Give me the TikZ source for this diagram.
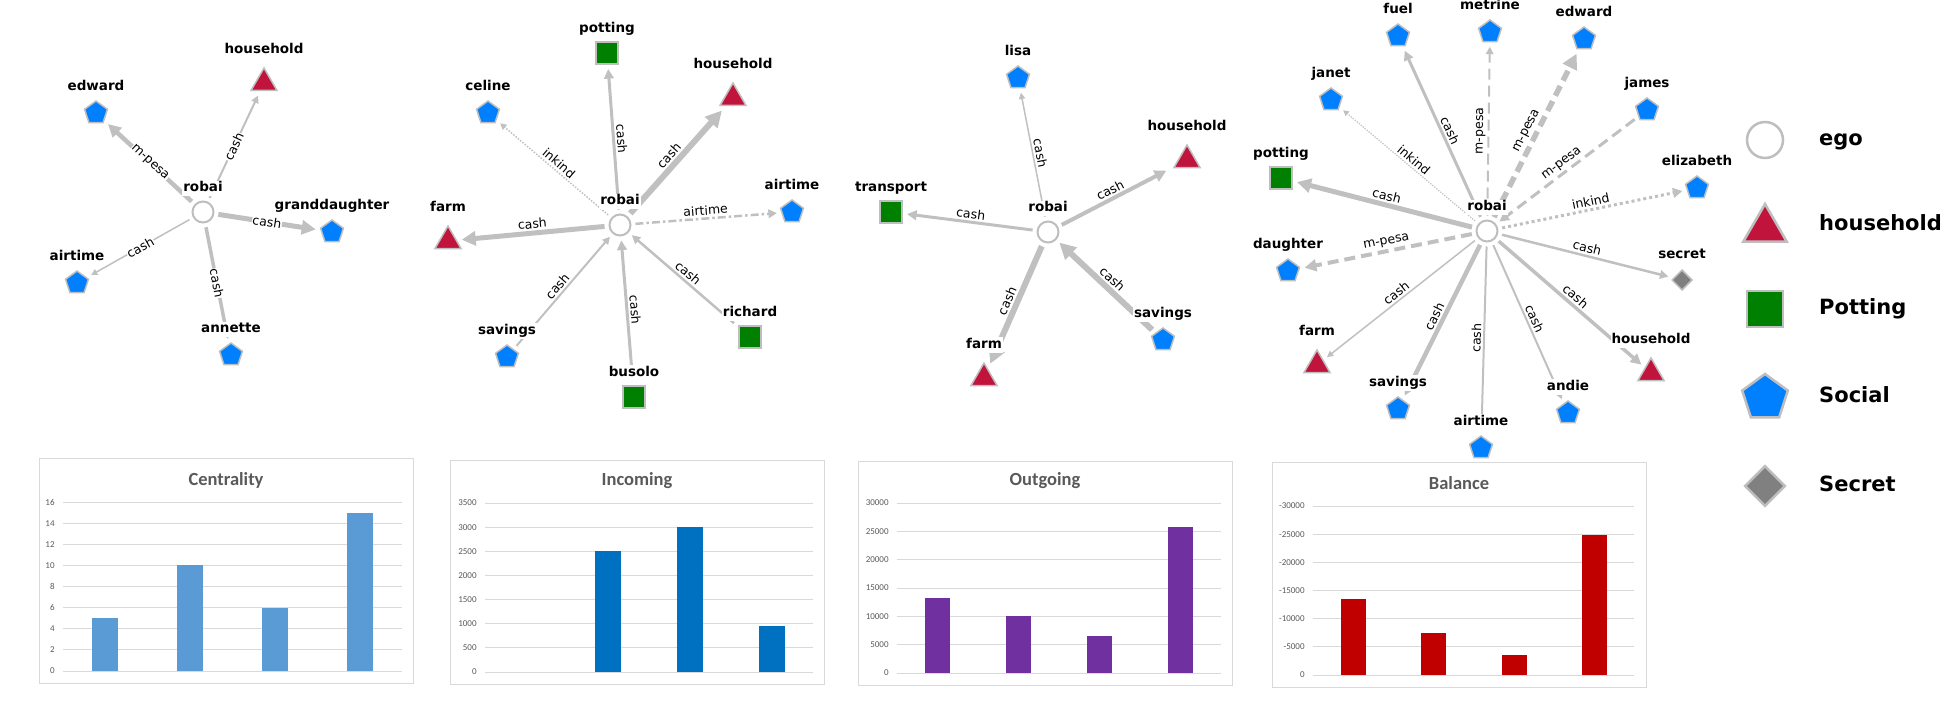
\documentclass[tikz,border=0pt]{standalone}
\usepackage{fontspec}
\setmainfont{DejaVu Sans}
\newfontfamily\chartfont{Carlito}
\usetikzlibrary{shapes.geometric,arrows.meta,backgrounds,positioning}

\definecolor{egray}{HTML}{C0C0C0}
\definecolor{vgray}{HTML}{BEBEBE}
\definecolor{socblue}{HTML}{0080FF}
\definecolor{hhred}{HTML}{C0143C}
\definecolor{potgreen}{HTML}{008000}
\definecolor{secgray}{HTML}{808080}
\definecolor{gridgray}{HTML}{D9D9D9}
\definecolor{tgray}{HTML}{595959}
\definecolor{barA}{HTML}{5B9BD5}
\definecolor{barB}{HTML}{0070C0}
\definecolor{barC}{HTML}{7030A0}
\definecolor{barD}{HTML}{C00000}

\tikzset{
    vtx/.style = {draw=vgray, line width=1.5pt, inner sep=0pt, outer sep=5pt, label distance=-3pt},
    ego/.style = {vtx, circle, minimum size=21pt, fill=white, line width=2pt, label distance=0pt},
    social/.style = {vtx, regular polygon, regular polygon sides=5, minimum size=24pt, fill=socblue},
    hh/.style = {vtx, regular polygon, regular polygon sides=3, minimum size=30pt, fill=hhred},
    pot/.style = {vtx, rectangle, minimum size=22pt, fill=potgreen},
    sec/.style = {vtx, diamond, minimum width=24pt, minimum height=24pt, fill=secgray},
    vlbl/.style = {font=\bfseries\fontsize{13.5}{14}\selectfont, fill=white, inner sep=1pt, text depth=3.5pt},
    tie/.style = {draw=egray, -{Triangle[length=3pt 2.2, width=3pt 2.2]}},
    mpesa/.style = {dash pattern=on 11pt off 6pt},
    inkind/.style = {dash pattern=on #1 off #1},
    inkind/.default = 1.5pt,
    airdash/.style = {dash pattern=on 8pt off 3pt on 2.5pt off 3pt},
    lab/.style = {font=\fontsize{12.5}{13}\selectfont, sloped, above, inner sep=2pt},
    labon/.style = {lab, anchor=center, fill=white, inner sep=0.5pt},
    ltext/.style = {anchor=west, font=\bfseries\fontsize{21}{22}\selectfont, text height=15pt, text depth=4.5pt, inner sep=0pt},
    cbox/.style = {draw=gridgray, line width=0.8pt},
    cgrid/.style = {draw=gridgray, line width=0.8pt},
    ctick/.style = {font=\chartfont\fontsize{9}{9}\selectfont, text=tgray, anchor=east, inner sep=0pt, xshift=-8pt},
    ctitle/.style = {font=\chartfont\bfseries\fontsize{18.5}{19}\selectfont, text=tgray},
}

\begin{document}
\begin{tikzpicture}[x=1pt, y=-1pt]
\useasboundingbox (0,0) rectangle (1956,706);

% first network
\node[ego, label={[vlbl]above:robai}] (aego) at (203,212) {};
\node[hh, label={[vlbl]above:household}] (ahh) at (264,83) {};
\node[social, label={[vlbl]above:edward}] (aedw) at (96,113) {};
\node[social, label={[vlbl]above:airtime}] (aair) at (77,283) {};
\node[social, label={[vlbl]above:granddaughter}] (agd) at (332,232) {};
\node[social, label={[vlbl]above:annette}] (aann) at (231,355) {};

% second network
\node[ego, label={[vlbl]above:robai}] (bego) at (620,225) {};
\node[pot, label={[vlbl]above:potting}] (bpot) at (607,53) {};
\node[hh, label={[vlbl]above:household}] (bhh) at (733,98) {};
\node[social, label={[vlbl]above:celine}] (bcel) at (488,113) {};
\node[hh, label={[vlbl]above:farm}] (bfarm) at (448,241) {};
\node[social, label={[vlbl]above:airtime}] (bair) at (792,212) {};
\node[pot, label={[vlbl]above:richard}] (brich) at (750,337) {};
\node[pot, label={[vlbl]above:busolo}] (bbus) at (634,397) {};
\node[social, label={[vlbl]above:savings}] (bsav) at (507,357) {};

% third network
\node[ego, label={[vlbl]above:robai}] (cego) at (1048,232) {};
\node[social, label={[vlbl]above:lisa}] (clisa) at (1018,78) {};
\node[hh, label={[vlbl]above:household}] (chh) at (1187,160) {};
\node[social, label={[vlbl]above:savings}] (csav) at (1163,340) {};
\node[hh, label={[vlbl]above:farm}] (cfarm) at (984,378) {};
\node[pot, label={[vlbl]above:transport}] (ctr) at (891,212) {};

% fourth network
\node[ego, label={[vlbl]above:robai}] (dego) at (1487,231) {};
\node[social, label={[vlbl]above:fuel}] (dfuel) at (1398,36) {};
\node[social, label={[vlbl]above:metrine}] (dmet) at (1490,32) {};
\node[social, label={[vlbl]above:edward}] (dedw) at (1584,39) {};
\node[social, label={[vlbl]above:james}] (djam) at (1647,110) {};
\node[social, label={[vlbl]above:janet}] (djan) at (1331,100) {};
\node[pot, label={[vlbl]above:potting}] (dpot) at (1281,178) {};
\node[social, label={[vlbl]above:elizabeth}] (deliz) at (1697,188) {};
\node[social, label={[vlbl]above:daughter}] (ddau) at (1288,271) {};
\node[sec, label={[vlbl]above:secret}] (dsec) at (1682,280) {};
\node[hh, label={[vlbl]above:farm}] (dfarm) at (1317,365) {};
\node[hh, label={[vlbl]above:household}] (dhh) at (1651,373) {};
\node[social, label={[vlbl]above:andie}] (dand) at (1568,413) {};
\node[social, label={[vlbl]above:airtime}] (dair) at (1481,448) {};
\node[social, label={[vlbl]above:savings}] (dsav) at (1398,409) {};

\begin{pgfonlayer}{background}
\draw[tie, line width=4.5pt] (aego) -- node[labon] {m-pesa} (aedw);
\draw[tie, line width=2pt] (aego) -- node[labon] {cash} (ahh);
\draw[tie, line width=5pt] (aego) -- node[labon] {cash} (agd);
\draw[tie, line width=1.5pt] (aego) -- node[labon] {cash} (aair);
\draw[tie, line width=3.5pt] (aego) -- node[labon] {cash} (aann);

\draw[tie, line width=3pt] (bego) -- node[lab] {cash} (bpot);
\draw[tie, line width=6pt] (bego) -- node[lab] {cash} (bhh);
\draw[tie, inkind, line width=1.5pt] (bego) -- node[lab] {inkind} (bcel);
\draw[tie, line width=5pt] (bego) -- node[lab] {cash} (bfarm);
\draw[tie, airdash, line width=2.5pt] (bego) -- node[lab] {airtime} (bair);
\draw[tie, line width=2pt] (bsav) -- node[lab] {cash} (bego);
\draw[tie, line width=3pt] (bbus) -- node[lab] {cash} (bego);
\draw[tie, line width=2.5pt] (brich) -- node[lab] {cash} (bego);

\draw[tie, line width=1.5pt] (cego) -- node[lab] {cash} (clisa);
\draw[tie, line width=4pt] (cego) -- node[lab] {cash} (chh);
\draw[tie, line width=3pt] (cego) -- node[lab] {cash} (ctr);
\draw[tie, line width=6pt] (cego) -- node[lab] {cash} (cfarm);
\draw[tie, line width=6pt] (csav) -- node[lab] {cash} (cego);

\draw[tie, line width=3pt] (dego) -- node[lab] {cash} (dfuel);
\draw[tie, mpesa, line width=2pt] (dego) -- node[lab] {m-pesa} (dmet);
\draw[tie, mpesa, line width=5.5pt] (dego) -- node[lab] {m-pesa} (dedw);
\draw[tie, mpesa, line width=3pt] (djam) -- node[lab] {m-pesa} (dego);
\draw[tie, inkind=1.3pt, line width=1.2pt] (dego) -- node[lab] {inkind} (djan);
\draw[tie, line width=5pt] (dego) -- node[lab] {cash} (dpot);
\draw[tie, inkind=3pt, line width=3pt] (dego) -- node[lab] {inkind} (deliz);
\draw[tie, mpesa, line width=4pt] (dego) -- node[lab] {m-pesa} (ddau);
\draw[tie, line width=2.5pt] (dego) -- node[lab] {cash} (dsec);
\draw[tie, line width=1.5pt] (dego) -- node[lab] {cash} (dfarm);
\draw[tie, line width=4.5pt] (dego) -- node[lab] {cash} (dsav);
\draw[tie, line width=2pt] (dego) -- node[lab] {cash} (dair);
\draw[tie, line width=2pt] (dego) -- node[lab] {cash} (dand);
\draw[tie, line width=3.5pt] (dego) -- node[lab] {cash} (dhh);
\end{pgfonlayer}

% legend
\node[ego, minimum size=36pt, line width=2.5pt] (kego) at (1765,140) {};
\node[hh, minimum size=50pt, line width=2.5pt] (khh) at (1765,229) {};
\node[pot, minimum size=36pt, line width=2.5pt] (kpot) at (1765,309) {};
\node[social, minimum size=48pt, line width=2.5pt] (ksoc) at (1765,398) {};
\node[sec, minimum width=44pt, minimum height=44pt, line width=2.5pt] (ksec) at (1765,486) {};
\node[ltext] (tego) at (1819,140) {ego};
\node[ltext] (thh) at (1819,225) {household};
\node[ltext] (tpot) at (1819,309) {Potting};
\node[ltext] (tsoc) at (1819,397) {Social};
\node[ltext] (tsec) at (1819,486) {Secret};

% Centrality chart
\draw[cbox] (39,458) rectangle (413,683);
\node[ctitle] (tcent) at (226,480) {Centrality};
\foreach \i/\t in {0/0,1/2,2/4,3/6,4/8,5/10,6/12,7/14,8/16}
    \draw[cgrid] (63,{671-\i*21.125}) node[ctick] (ya\i) {\t} -- (402,{671-\i*21.125});
\foreach \x/\v in {105/5,190/10,275/6,360/15}
    \fill[barA] (\x-13,671) rectangle (\x+13,{671-\v*10.5625});

% Incoming chart
\draw[cbox] (450,460) rectangle (824,684);
\node[ctitle] (tinc) at (637,481) {Incoming};
\foreach \i/\t in {0/0,1/500,2/1000,3/1500,4/2000,5/2500,6/3000,7/3500}
    \draw[cgrid] (485,{672-\i*24.143}) node[ctick] (yb\i) {\t} -- (813,{672-\i*24.143});
\foreach \x/\v in {608/2500,690/3000,772/950}
    \fill[barB] (\x-13,672) rectangle (\x+13,{672-\v*0.048286});

% Outgoing chart
\draw[cbox] (858,461) rectangle (1232,685);
\node[ctitle] (tout) at (1045,481) {Outgoing};
\foreach \i/\t in {0/0,1/5000,2/10000,3/15000,4/20000,5/25000,6/30000}
    \draw[cgrid] (897,{673-\i*28.333}) node[ctick] (yc\i) {\t} -- (1221,{673-\i*28.333});
\foreach \x/\v in {937.5/13.3,1018.5/10,1099.5/6.6,1180.5/25.8}
    \fill[barC] (\x-12.5,673) rectangle (\x+12.5,{673-\v*5.6667});

% Balance chart
\draw[cbox] (1272,462) rectangle (1646,687);
\node[ctitle] (tbal) at (1459,483) {Balance};
\foreach \i/\t in {0/0,1/-5000,2/-10000,3/-15000,4/-20000,5/-25000,6/-30000}
    \draw[cgrid] (1313,{675-\i*28.167}) node[ctick] (yd\i) {\t} -- (1634,{675-\i*28.167});
\foreach \x/\v in {1353.5/13.5,1433.5/7.5,1514/3.6,1594/24.9}
    \fill[barD] (\x-12.5,675) rectangle (\x+12.5,{675-\v*5.6333});
\end{tikzpicture}
\end{document}
